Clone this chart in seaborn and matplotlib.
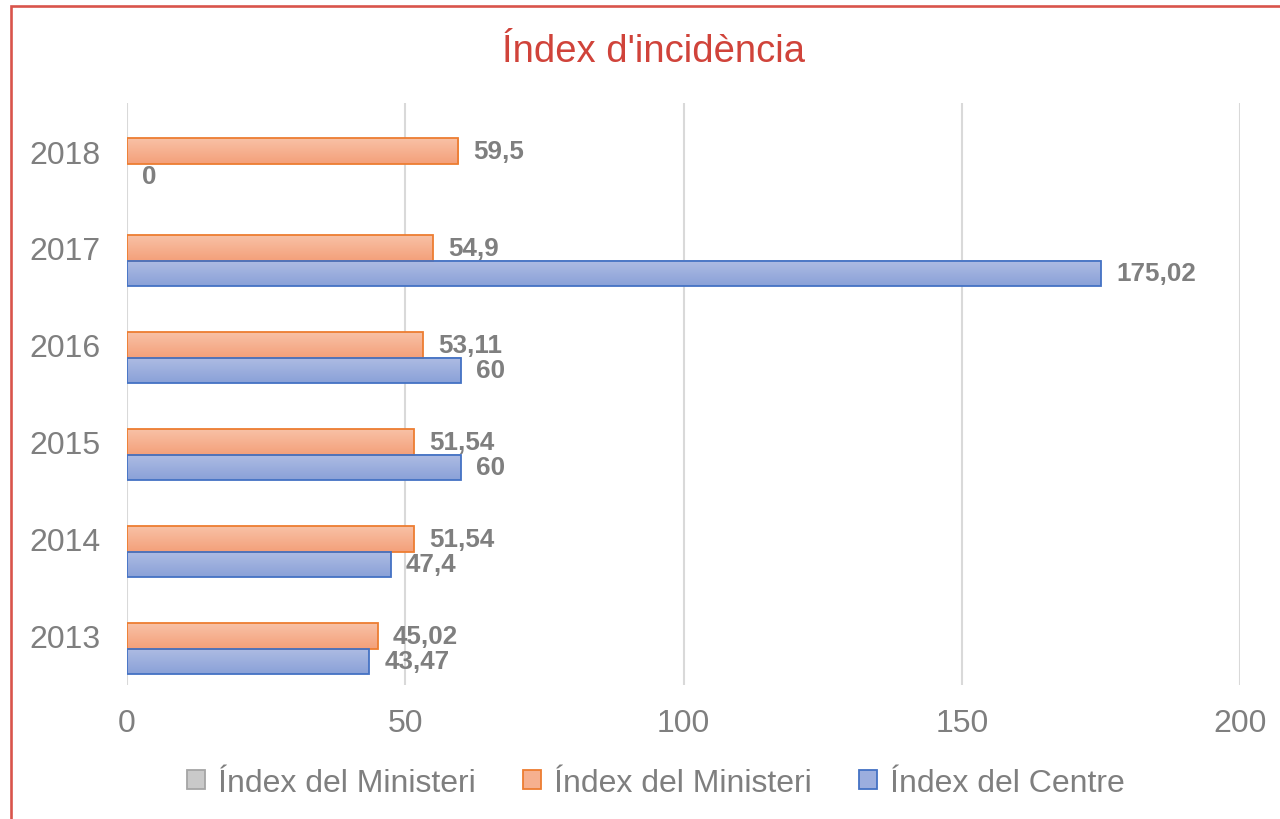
import numpy as np
import pandas as pd
import matplotlib
matplotlib.use("Agg")
import matplotlib.pyplot as plt
from matplotlib.patches import Patch, Rectangle
from matplotlib.colors import LinearSegmentedColormap, to_hex
import seaborn as sns

# Data
years = ["2013", "2014", "2015", "2016", "2017", "2018"]
ministeri_buit = [np.nan, np.nan, np.nan, np.nan, np.nan, np.nan]
ministeri = [45.02, 51.54, 51.54, 53.11, 54.9, 59.5]
centre = [43.47, 47.4, 60, 60, 175.02, 0]
series_keys = ["s0", "s1", "s2"]
series_labels = ["Índex del Ministeri", "Índex del Ministeri", "Índex del Centre"]
x_ticks = [0, 50, 100, 150, 200]
title = "Índex d'incidència"

df = pd.concat([
    pd.DataFrame({"year": years, "value": ministeri_buit, "serie": "s0"}),
    pd.DataFrame({"year": years, "value": ministeri, "serie": "s1"}),
    pd.DataFrame({"year": years, "value": centre, "serie": "s2"}),
], ignore_index=True)

# Styling
fills = {"s0": "#C9C9C9", "s1": "#F6B08F", "s2": "#9CAEDE"}
edges = {"s0": "#A5A5A5", "s1": "#ED7D31", "s2": "#4472C4"}
grads = {
    "s0": ("#D6D6D6", "#BDBDBD"),
    "s1": ("#F8C1A6", "#F4A07A"),
    "s2": ("#AEBCE3", "#8AA1D8"),
}
text_gray = "#7F7F7F"
title_red = "#D0433A"

sns.set_theme(style="white")
plt.rcParams["font.family"] = ["Liberation Sans", "DejaVu Sans"]

W, H = 1280, 820
fig = plt.figure(figsize=(W / 100, H / 100), dpi=100)
ax = fig.add_axes([127 / W, 1 - 685.5 / H, (1240 - 127) / W, (685.5 - 103.5) / H])

sns.barplot(
    data=df, y="year", x="value", hue="serie",
    order=years[::-1], hue_order=series_keys,
    orient="h", width=0.78, palette=fills, saturation=1,
    errorbar=None, legend=False, ax=ax,
)

xlim = (0, 200)
ylim = ax.get_ylim()
fill_to_key = {to_hex(v): k for k, v in fills.items()}

for patch in list(ax.patches):
    w = patch.get_width()
    if not np.isfinite(w):
        continue
    key = fill_to_key.get(to_hex(patch.get_facecolor()), "s1")
    x0, y0, h = patch.get_x(), patch.get_y(), patch.get_height()
    if w > 0:
        cmap = LinearSegmentedColormap.from_list(key, list(grads[key]))
        grad = np.linspace(0, 1, 64).reshape(-1, 1)
        ax.imshow(grad, extent=[x0, x0 + w, y0 + h, y0], aspect="auto",
                  cmap=cmap, interpolation="bicubic", zorder=2)
        patch.set_facecolor("none")
        patch.set_edgecolor(edges[key])
        patch.set_linewidth(1.3)
        patch.set_zorder(3)
    else:
        patch.set_edgecolor("none")
    label = f"{w:g}".replace(".", ",")
    ax.annotate(label, xy=(x0 + w, y0 + h / 2), xytext=(11, 0),
                textcoords="offset points", ha="left", va="center",
                fontsize=18.7, fontweight="bold", color=text_gray, zorder=4)

ax.set_xlim(*xlim)
ax.set_ylim(*ylim)

ax.set_xticks(x_ticks)
ax.set_xticklabels([str(t) for t in x_ticks])
ax.grid(axis="x", color="#D9D9D9", linewidth=1.5, zorder=0)
ax.grid(axis="y", visible=False)
ax.set_axisbelow(True)
for s in ax.spines.values():
    s.set_visible(False)
ax.tick_params(axis="x", length=0, pad=17, labelsize=23, labelcolor=text_gray)
ax.tick_params(axis="y", length=0, pad=19, labelsize=23, labelcolor=text_gray)
ax.set_xlabel("")
ax.set_ylabel("")

# Title
fig.text(654 / W, 1 - 62 / H, title, ha="center", va="baseline",
         fontsize=27.5, color=title_red)

# Legend
handles = [Patch(facecolor=fills[k], edgecolor=edges[k], linewidth=1.3,
                 label=lbl) for k, lbl in zip(series_keys, series_labels)]
fig.legend(handles=handles, loc="center", bbox_to_anchor=(656 / W, 1 - 784 / H),
           ncol=3, frameon=False, fontsize=23, labelcolor=text_gray,
           handlelength=0.55, handleheight=0.55, handletextpad=0.4,
           columnspacing=1.5, borderaxespad=0)

# Outer chart border
fig.patches.append(Rectangle((10.5 / W, -0.2), 1.5, 1.2 - 6.5 / H,
                             transform=fig.transFigure, fill=False,
                             edgecolor="#D9544B", linewidth=1.9))

fig.savefig("out.png", dpi=100)
